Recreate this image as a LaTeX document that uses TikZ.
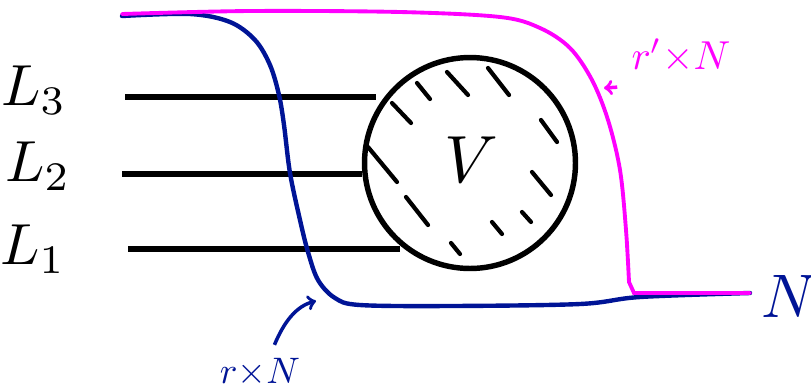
\documentclass[tikz,border=0pt]{standalone}
\usepackage{amsmath, amssymb}
\usepackage{xcolor}
\usepackage{tikz}
\usetikzlibrary{calc, positioning}
\definecolor{inkblue}{RGB}{0,20,150}
\definecolor{inkpink}{RGB}{255,0,255}

\begin{document}
\begin{tikzpicture}[>=to, x=0.02cm, y=-0.02cm,
    wire/.style={line width=3.1pt},
    hatch/.style={line width=2.4pt, line cap=round},
    lab/.style={scale=3.3, inner sep=0pt}]
    \useasboundingbox (0,0) rectangle (811,390);

    % Khối V
    \node[draw, circle, line width=3.1pt, minimum size=4.22cm, inner sep=0pt] (v) at (470,163) {};
    \node[scale=3.8] (vtext) at (471,160) {$V$};
    \foreach \a/\b/\c/\d in {417/83/430/99, 447/72/468/95, 488/68/509/95,
        392/103/411/123, 541/120/557/142, 368/147/397/182, 532/172/551/195,
        406/197/428/225, 522/212/531/222, 492/222/502/234, 451/243/460/254}
        \draw[hatch] (\a,\b) -- (\c,\d);

    % Các đường L_1, L_2, L_3
    \node[lab] (l3) at (34,90) {$L_3$};
    \node[lab] (l2) at (38,166) {$L_2$};
    \node[lab] (l1) at (33,249) {$L_1$};
    \coordinate (w3) at (125,97);
    \coordinate (w2) at (122,174);
    \coordinate (w1) at (128,249);
    \draw[wire] (w3) -- (w3 -| v.150);
    \draw[wire] (w2) -- (w2 -| v.186);
    \draw[wire] (w1) -- (w1 -| v.230);

    % Đường r x N
    \draw[inkblue, line width=2.5pt, line cap=round] plot[smooth, tension=0.55] coordinates {
        (122,16) (190,14) (230,22) (255,40) (270,65) (279,95) (284,125) (290,173)
        (300,220) (308,252) (318,280) (335,298) (360,305) (450,306) (580,304)
        (640,297) (750,293)};
    \node[inkblue, scale=2.1] (rtext) at (260,372) {$r{\times}N$};
    \coordinate (btip) at (316,301);
    \draw[->, inkblue, line width=2pt] (rtext.62) .. controls (284,322) and (296,306) .. (btip);

    % Đường r' x N
    \draw[inkpink, line width=2.2pt, line cap=round] plot[smooth, tension=0.55] coordinates {
        (122,14) (250,11) (400,12) (500,17) (540,28) (570,48) (592,80) (608,120)
        (620,170) (626,230) (629,282)} -- (634,293) -- (750,293);
    \node[inkpink, scale=2.3] (rptext) at (681,56) {$r'{\times}N$};
    \coordinate (mtip) at (604,88);
    \draw[->, inkpink, line width=2pt] (rptext.south west) -- (mtip);

    \node[inkblue, scale=3.5] (ntext) at (790,296) {$N$};
\end{tikzpicture}
\end{document}
